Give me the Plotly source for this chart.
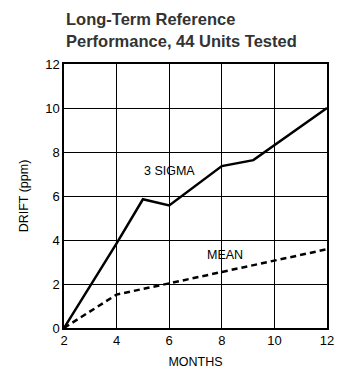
import plotly.graph_objects as go

sigma_x = [2, 4, 5, 6, 8, 9.2, 12]
sigma_y = [0, 3.85, 5.85, 5.57, 7.36, 7.63, 10.0]
mean_x = [2, 4, 6, 8, 10, 12]
mean_y = [0, 1.52, 2.03, 2.55, 3.06, 3.58]

x_ticks = [2, 4, 6, 8, 10, 12]
y_ticks = [0, 2, 4, 6, 8, 10, 12]

title_lines = ["Long-Term Reference", "Performance, 44 Units Tested"]

FONT = "Liberation Sans Narrow, Arial Narrow, Liberation Sans, Arial, sans-serif"

# page has an 8px body margin; the figure is sized to fit the window exactly
OFF = 8
W, H = 360 - OFF, 373 - OFF
L, R, T, B = 64 - OFF, 33, 64 - OFF, 45
ph = H - T - B

def py(p):
    # page pixel (from top) -> paper y
    return (H - B - (p - OFF)) / ph

fig = go.Figure()
fig.add_trace(go.Scatter(x=sigma_x, y=sigma_y, mode="lines",
                         line=dict(color="black", width=2.5), showlegend=False))
fig.add_trace(go.Scatter(x=mean_x, y=mean_y, mode="lines",
                         line=dict(color="black", width=2.5, dash="6px,4px"), showlegend=False))

fig.add_annotation(x=6, y=7.12, text="3 SIGMA", showarrow=False,
                   font=dict(family=FONT, size=12.5, color="black"))
fig.add_annotation(x=8.12, y=3.32, text="MEAN", showarrow=False,
                   font=dict(family=FONT, size=12.5, color="black"))

for txt, ypix in zip(title_lines, [19, 41]):
    fig.add_annotation(xref="paper", yref="paper", x=0, y=py(ypix),
                       xanchor="left", yanchor="middle", showarrow=False,
                       text="<b>" + txt + "</b>",
                       font=dict(family=FONT, size=16.5, color="#333333"))

fig.update_layout(
    width=W, height=H,
    margin=dict(l=L, r=R, t=T, b=B, autoexpand=False),
    paper_bgcolor="white", plot_bgcolor="white",
    font=dict(family=FONT, size=13, color="black"),
)
fig.update_xaxes(range=[2, 12], tickvals=x_ticks, ticktext=[str(v) for v in x_ticks],
                 showgrid=True, gridcolor="black", gridwidth=1.3,
                 showline=True, linecolor="black", linewidth=1.5, mirror=True,
                 zeroline=False, ticks="", automargin=False,
                 tickfont=dict(family=FONT, size=13),
                 title=dict(text="MONTHS", standoff=10, font=dict(family=FONT, size=12.5)))
fig.update_yaxes(range=[0, 12], tickvals=y_ticks, ticktext=[str(v) for v in y_ticks],
                 showgrid=True, gridcolor="black", gridwidth=1.3,
                 showline=True, linecolor="black", linewidth=1.5, mirror=True,
                 zeroline=False, ticks="", automargin=False,
                 tickfont=dict(family=FONT, size=13),
                 title=dict(text="DRIFT (ppm)", standoff=14, font=dict(family=FONT, size=12.5)))

fig.write_html("out.html")
